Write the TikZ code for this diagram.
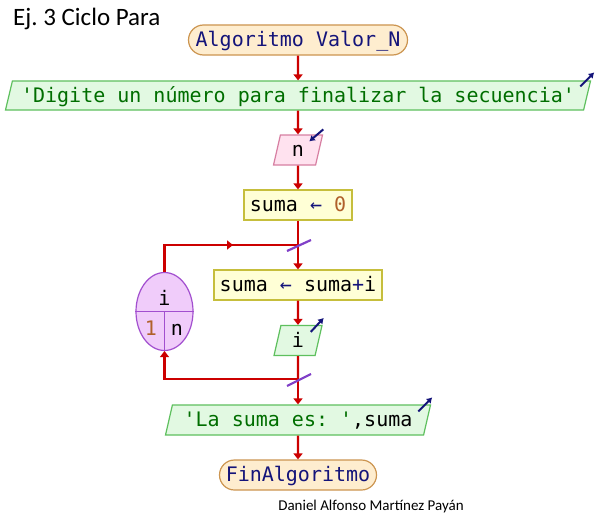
\documentclass[tikz,border=0pt]{standalone}
\usepackage{fontspec}
\setmainfont{Carlito}
\newfontfamily\monof[Ligatures=TeXOff]{DejaVu Sans Mono}
\usetikzlibrary{shapes.geometric,shapes.misc,arrows.meta,calc}
\frenchspacing
\definecolor{termfill}{HTML}{FEEDCF}
\definecolor{termdraw}{HTML}{CC9550}
\definecolor{outfill}{HTML}{E2F9E2}
\definecolor{outdraw}{HTML}{5EC05E}
\definecolor{infill}{HTML}{FFE2EF}
\definecolor{indraw}{HTML}{D77FA2}
\definecolor{procfill}{HTML}{FFFFD6}
\definecolor{procdraw}{HTML}{C6BE3C}
\definecolor{ellfill}{HTML}{F0CCFA}
\definecolor{elldraw}{HTML}{A24FCF}
\definecolor{flowred}{HTML}{CC0000}
\definecolor{slashpurple}{HTML}{8040C8}
\definecolor{navy}{HTML}{14147A}
\definecolor{strgreen}{HTML}{006E00}
\definecolor{numbrown}{HTML}{B0602A}
\begin{document}
\begin{tikzpicture}[x=1pt,y=-1pt,
  mono/.style={font=\monof\fontsize{20}{24}\selectfont, text height=16pt, text depth=3pt},
  term/.style={mono, rounded rectangle, draw=termdraw, fill=termfill, line width=1.2pt, minimum height=30pt, inner xsep=2pt, inner ysep=0pt, text=navy},
  proc/.style={mono, rectangle, draw=procdraw, fill=procfill, line width=1.2pt, minimum height=30pt, inner xsep=2pt, inner ysep=0pt},
  para/.style={mono, trapezium, trapezium left angle=70, trapezium right angle=110, trapezium stretches body, line width=1.2pt, minimum height=29pt, inner xsep=2pt, inner ysep=0pt},
  outp/.style={para, draw=outdraw, fill=outfill},
  inp/.style={para, draw=indraw, fill=infill},
  loopell/.style={ellipse, draw=elldraw, fill=ellfill, line width=1.2pt, minimum width=57pt, minimum height=78pt, inner sep=0pt},
  flowline/.style={draw=flowred, line width=2.2pt},
  flow/.style={flowline, -{Triangle[width=9pt,length=6pt]}},
  slash/.style={draw=slashpurple, line width=2.2pt},
  icon/.style={draw=navy, line width=2pt, -{Latex[length=5.5pt,width=7pt]}}
]
\useasboundingbox (0,0) rectangle (596,519);
\fill[white] (0,0) rectangle (596,519);

\node[font=\fontsize{25}{29}\selectfont, anchor=base west, inner sep=0pt] (title) at (13,26) {Ej. 3 Ciclo Para};

\node[term, minimum width=223pt] (start) at (298,40) {Algoritmo Valor\_N};
\node[outp, minimum width=585pt] (out1) at (298,95.5) {\color{strgreen}'Digite un número para finalizar la secuencia'};
\node[inp, minimum width=49pt, minimum height=30pt] (in1) at (298,150) {n};
\node[proc, minimum width=108pt] (p1) at (298,205) {suma {\color{navy}←} {\color{numbrown}0}};
\coordinate (j1) at (298,245);
\coordinate (m1) at (233,245);
\node[proc, minimum width=168pt] (p2) at (298,285) {suma {\color{navy}←} suma{\color{navy}+}i};
\node[outp, minimum width=48pt, minimum height=30pt] (out2) at (298,340.5) {i};
\coordinate (j2) at (298,379);
\node[outp, minimum width=265pt, minimum height=30pt] (out3) at (298,420) {{\color{strgreen}'La suma es: '},suma};
\node[term, minimum width=161pt] (fin) at (298,475) {FinAlgoritmo};

\node[loopell] (loop) at (164.5,311.5) {};
\draw[elldraw, line width=1.2pt] (loop.west) -- (loop.east);
\draw[elldraw, line width=1.2pt] (loop.center) -- (loop.south);
\node[mono, inner sep=0pt] (lv) at (164.5,299) {i};
\node[mono, inner sep=0pt, text=numbrown] (lfrom) at (151,329) {1};
\node[mono, inner sep=0pt] (lto) at (177,329) {n};

\node[font=\fontsize{15}{18}\selectfont, inner sep=0pt] (author) at (371,506) {Daniel Alfonso Martínez Payán};

% flow
\draw[flow] (start) -- (out1);
\draw[flow] (out1) -- (in1);
\draw[flow] (in1) -- (p1);
\draw[flowline] (p1) -- (j1);
\draw[flow] (j1) -- (p2);
\draw[flowline] (loop.north) |- (j1);
\draw[flow] (loop.north) |- (m1);
\draw[flow] (p2) -- (out2);
\draw[flowline] (out2) -- (j2);
\draw[flow] (j2) -- (out3);
\draw[flow] (j2) -| (loop.south);
\draw[flow] (out3) -- (fin);

\draw[slash] ($(j1)+(-11,6)$) -- ($(j1)+(13,-5)$);
\draw[slash] ($(j2)+(-11,7)$) -- ($(j2)+(13,-5)$);

% io icons
\draw[icon] ($(out1.top right corner)+(-11,6)$) -- ($(out1.top right corner)+(3,-8)$);
\draw[icon] ($(in1.top right corner)+(0,-5)$) -- ($(in1.top right corner)+(-14,7)$);
\draw[icon] ($(out2.top right corner)+(-12,7)$) -- ($(out2.top right corner)+(1,-7)$);
\draw[icon] ($(out3.top right corner)+(-13,7)$) -- ($(out3.top right corner)+(1,-7)$);
\end{tikzpicture}
\end{document}
